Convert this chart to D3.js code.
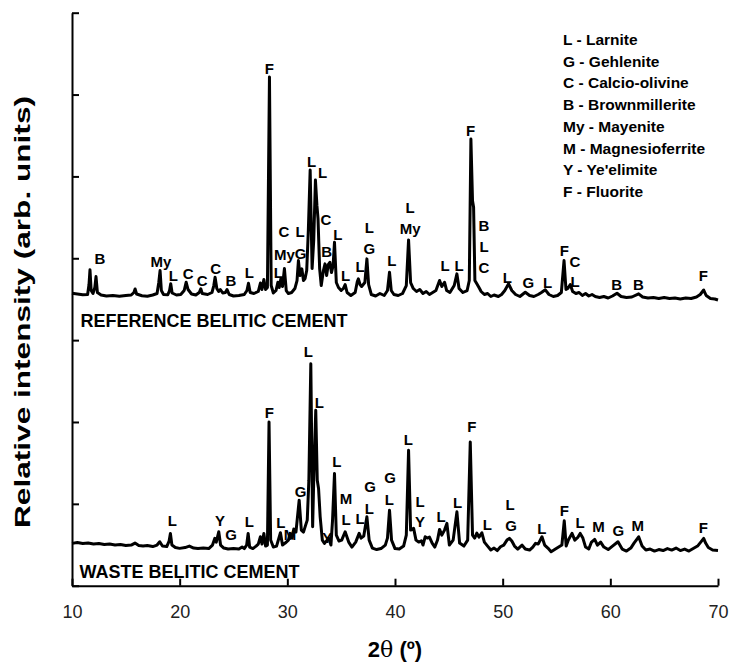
<!DOCTYPE html>
<html>
<head>
<meta charset="utf-8">
<script src="https://cdn.jsdelivr.net/npm/d3@7"></script>
<style>
  body { margin: 0; background: #fff; }
  svg { display: block; font-family: "Liberation Sans", Arial, sans-serif; }
  .peak { font-size: 15px; font-weight: bold; text-anchor: middle; }
  .axis text { font-size: 18px; fill: #222; }
</style>
</head>
<body>
<svg id="chart" width="729" height="664"></svg>
<script>
// 2theta (deg), intensity (arb.)
var refPattern = [
  [10.0, 2930], [10.5, 2922], [11.0, 2915], [11.45, 2917], [11.58, 3017], [11.67, 3164], [11.78, 2957],
  [11.95, 2927], [12.12, 2987], [12.23, 3097], [12.36, 2937], [12.7, 2912], [13.2, 2902], [13.8, 2907],
  [14.4, 2899], [15.0, 2907], [15.5, 2912], [15.75, 2937], [15.86, 2972], [16.0, 2922], [16.5, 2905],
  [17.0, 2899], [17.5, 2912], [17.9, 2927], [18.06, 3037], [18.18, 3157], [18.3, 2957], [18.5, 2917],
  [18.9, 2915], [19.06, 2957], [19.17, 3024], [19.3, 2932], [19.7, 2912], [20.1, 2917], [20.42, 2957],
  [20.6, 3040], [20.78, 2967], [21.1, 2922], [21.5, 2912], [21.82, 2937], [21.96, 2974], [22.1, 2927],
  [22.6, 2917], [23.0, 2937], [23.17, 3007], [23.29, 3090], [23.45, 2977], [23.62, 2947], [23.78, 2967],
  [24.0, 2932], [24.25, 2937], [24.4, 2967], [24.6, 2917], [25.0, 2902], [25.5, 2907], [26.0, 2917],
  [26.25, 2957], [26.39, 3030], [26.55, 2937], [26.9, 2927], [27.3, 2947], [27.5, 3032], [27.64, 2967],
  [27.82, 3067], [27.98, 2967], [28.15, 2987], [28.34, 5097], [28.5, 3007], [28.7, 2932], [28.95, 2957],
  [29.12, 3040], [29.25, 2987], [29.4, 3074], [29.55, 2997], [29.73, 3177], [29.9, 2957], [30.1, 2927],
  [30.4, 2937], [30.7, 2977], [30.9, 3057], [31.03, 3257], [31.18, 3107], [31.35, 3174], [31.5, 3057],
  [31.65, 3077], [31.8, 3157], [31.95, 3557], [32.12, 4164], [32.3, 3177], [32.45, 3457], [32.61, 4064],
  [32.75, 3807], [32.85, 3677], [33.0, 3177], [33.15, 3007], [33.35, 3157], [33.5, 3224], [33.65, 3107],
  [33.8, 3217], [33.95, 3240], [34.1, 3137], [34.25, 3207], [34.38, 3440], [34.55, 3037], [34.75, 2987],
  [35.0, 2957], [35.2, 2977], [35.37, 3017], [35.55, 2937], [35.9, 2907], [36.3, 2937], [36.5, 3047],
  [36.6, 3074], [36.75, 3017], [36.9, 2997], [37.2, 3037], [37.39, 3274], [37.55, 3017], [37.8, 2917],
  [38.2, 2902], [38.6, 2927], [39.0, 2907], [39.3, 2957], [39.49, 3140], [39.65, 2957], [39.9, 2917],
  [40.3, 2907], [40.7, 2927], [41.05, 3007], [41.26, 3464], [41.45, 3037], [41.7, 2977], [42.0, 2947],
  [42.3, 2967], [42.6, 2927], [42.9, 2947], [43.2, 2917], [43.5, 2937], [43.8, 2957], [44.14, 3057],
  [44.35, 2997], [44.6, 3040], [44.8, 2957], [45.1, 2937], [45.5, 3007], [45.75, 3124], [45.95, 2977],
  [46.3, 2937], [46.7, 2957], [46.9, 3057], [47.05, 4474], [47.2, 3857], [47.3, 3790], [47.42, 3057],
  [47.6, 3024], [47.8, 2987], [48.0, 2947], [48.3, 2917], [48.6, 2927], [48.9, 2897], [49.2, 2912],
  [49.6, 2897], [49.9, 2917], [50.2, 2957], [50.55, 3024], [50.85, 2957], [51.2, 2917], [51.6, 2897],
  [52.1, 2940], [52.5, 2907], [52.9, 2897], [53.3, 2917], [53.6, 2937], [53.96, 2964], [54.3, 2917],
  [54.7, 2897], [55.1, 2907], [55.45, 2937], [55.7, 3257], [55.88, 2967], [56.05, 2977], [56.28, 3017],
  [56.5, 2947], [56.8, 2927], [57.1, 2937], [57.4, 2907], [57.7, 2927], [58.0, 2902], [58.3, 2917],
  [58.6, 2897], [59.0, 2887], [59.4, 2897], [59.8, 2882], [60.2, 2902], [60.62, 2930], [61.0, 2897],
  [61.5, 2887], [62.0, 2892], [62.63, 2924], [63.0, 2892], [63.5, 2882], [64.0, 2887], [64.5, 2877],
  [65.0, 2887], [65.5, 2877], [66.0, 2882], [66.5, 2872], [67.0, 2882], [67.5, 2877], [68.0, 2892],
  [68.35, 2917], [68.67, 2962], [68.9, 2907], [69.3, 2877], [69.7, 2872], [70.0, 2862]
];

var wastePattern = [
  [10.0, 424], [10.5, 432], [11.0, 422], [11.5, 427], [12.0, 417], [12.5, 422], [13.0, 412], [13.5, 417],
  [14.0, 407], [14.5, 412], [15.0, 402], [15.5, 407], [15.85, 427], [16.2, 402], [16.6, 397], [17.0, 402],
  [17.5, 392], [17.9, 407], [18.15, 440], [18.4, 397], [18.8, 392], [19.02, 447], [19.14, 524], [19.28, 407],
  [19.6, 382], [20.0, 374], [20.5, 382], [20.9, 397], [21.3, 377], [21.7, 372], [22.2, 377], [22.7, 372],
  [23.05, 407], [23.26, 474], [23.4, 437], [23.63, 540], [23.8, 407], [24.1, 377], [24.5, 367], [25.0, 372],
  [25.5, 367], [25.8, 387], [26.0, 372], [26.22, 407], [26.36, 524], [26.5, 387], [26.8, 372], [27.1, 397],
  [27.3, 417], [27.5, 490], [27.65, 417], [27.82, 524], [27.98, 397], [28.15, 407], [28.3, 1640], [28.45, 457],
  [28.7, 387], [29.0, 397], [29.36, 530], [29.55, 407], [29.8, 427], [30.1, 457], [30.26, 524], [30.45, 477],
  [30.6, 567], [30.8, 537], [31.1, 857], [31.3, 557], [31.5, 537], [31.7, 607], [31.85, 657], [32.0, 1057],
  [32.18, 2224], [32.35, 590], [32.45, 1057], [32.64, 1757], [32.78, 1057], [32.9, 974], [33.05, 690],
  [33.25, 457], [33.45, 424], [33.7, 457], [33.85, 474], [34.05, 407], [34.2, 657], [34.38, 1124], [34.55, 507],
  [34.8, 447], [35.05, 457], [35.37, 540], [35.7, 437], [36.0, 387], [36.35, 437], [36.67, 524], [36.85, 477],
  [37.1, 497], [37.39, 690], [37.6, 457], [37.9, 377], [38.3, 362], [38.7, 372], [39.1, 407], [39.3, 477],
  [39.49, 757], [39.68, 457], [40.0, 372], [40.4, 367], [40.8, 397], [41.05, 507], [41.26, 1357], [41.45, 557],
  [41.73, 574], [41.95, 457], [42.2, 437], [42.45, 450], [42.6, 407], [42.8, 490], [43.0, 477], [43.2, 487],
  [43.45, 427], [43.7, 387], [43.95, 457], [44.14, 564], [44.35, 507], [44.6, 557], [44.82, 624], [45.05, 407],
  [45.4, 457], [45.75, 740], [46.0, 427], [46.4, 397], [46.75, 457], [46.99, 1440], [47.2, 507], [47.4, 477],
  [47.6, 527], [47.8, 487], [48.07, 530], [48.3, 437], [48.6, 397], [48.9, 357], [49.2, 377], [49.5, 352],
  [49.8, 390], [50.1, 407], [50.4, 457], [50.62, 474], [50.85, 447], [51.1, 397], [51.4, 367], [51.8, 407],
  [52.1, 367], [52.5, 357], [52.8, 387], [53.05, 424], [53.3, 417], [53.65, 490], [53.9, 407], [54.2, 377],
  [54.5, 340], [54.9, 367], [55.2, 387], [55.5, 407], [55.72, 650], [55.9, 397], [56.1, 457], [56.44, 524],
  [56.7, 457], [57.0, 487], [57.2, 524], [57.45, 477], [57.7, 387], [58.0, 367], [58.25, 437], [58.55, 464],
  [58.8, 407], [59.1, 437], [59.4, 387], [59.8, 362], [60.2, 397], [60.71, 440], [61.1, 367], [61.5, 347],
  [61.9, 377], [62.2, 427], [62.63, 490], [62.95, 397], [63.3, 357], [63.7, 367], [64.1, 347], [64.5, 362],
  [64.9, 352], [65.3, 372], [65.7, 357], [66.1, 377], [66.5, 352], [66.9, 367], [67.3, 347], [67.7, 372],
  [68.1, 397], [68.4, 437], [68.67, 474], [68.85, 427], [69.1, 382], [69.5, 357], [70.0, 352]
];

// phase labels: 2theta, intensity level of the label baseline, phase
var refLabels = [
  [12.6, 3224, "B"], [18.27, 3190, "My"], [19.41, 3050, "L"], [20.8, 3074, "C"], [22.1, 3000, "C"],
  [23.35, 3124, "C"], [24.77, 3007, "B"], [26.47, 3084, "L"], [28.33, 5130, "F"], [29.69, 3497, "C"],
  [29.72, 3264, "My"], [29.16, 3084, "L"], [31.18, 3497, "L"], [31.24, 3274, "G"], [32.26, 4190, "L"],
  [33.28, 4084, "L"], [33.59, 3617, "C"], [33.66, 3290, "B"], [34.68, 3464, "L"], [35.42, 3057, "L"],
  [36.75, 3140, "L"], [37.61, 3534, "L"], [37.61, 3324, "G"], [39.7, 3207, "L"], [41.4, 3730, "L"],
  [41.4, 3524, "My"], [44.65, 3150, "L"], [45.95, 3150, "L"], [47.03, 4507, "F"], [48.27, 3557, "B"],
  [48.27, 3340, "L"], [48.27, 3130, "C"], [50.43, 3030, "L"], [52.38, 2984, "G"], [54.18, 2984, "L"],
  [55.73, 3307, "F"], [56.72, 3190, "C"], [56.72, 2997, "L"], [60.6, 2964, "B"], [62.6, 2964, "B"],
  [68.64, 3057, "F"]
];

var wasteLabels = [
  [19.32, 597, "L"], [23.75, 597, "Y"], [24.77, 457, "G"], [26.47, 590, "L"], [28.33, 1684, "F"],
  [29.39, 574, "L"], [30.25, 457, "M"], [31.24, 890, "G"], [31.95, 2290, "L"], [32.97, 1784, "L"],
  [33.71, 430, "Y"], [34.59, 1190, "L"], [35.45, 817, "M"], [35.45, 607, "L"], [36.75, 617, "L"],
  [37.68, 940, "G"], [37.61, 717, "L"], [39.54, 1024, "G"], [39.47, 807, "L"], [41.24, 1407, "L"],
  [42.32, 790, "L"], [42.32, 584, "Y"], [44.27, 640, "L"], [45.82, 774, "L"], [47.13, 1540, "F"],
  [48.57, 557, "L"], [50.68, 757, "L"], [50.78, 547, "G"], [53.63, 517, "L"], [55.73, 697, "F"],
  [57.19, 574, "L"], [58.89, 534, "M"], [60.75, 497, "G"], [62.55, 550, "M"], [68.64, 524, "F"]
];

var legendItems = [
  "L - Larnite", "G - Gehlenite", "C - Calcio-olivine", "B - Brownmillerite",
  "My - Mayenite", "M - Magnesioferrite", "Y - Ye'elimite", "F - Fluorite"
];

var xTicks = [10, 20, 30, 40, 50, 60, 70];
var yTicks = [0, 820, 1640, 2460, 3280, 4100, 4920, 5740];

var svg = d3.select("#chart");

var x = d3.scaleLinear().domain([10, 70]).range([72, 718]);
var y = d3.scaleLinear().domain([0, 5740]).range([585.7, 12.7]);

svg.append("rect").attr("width", 729).attr("height", 664).attr("fill", "#fff");

// peak labels go under the traces
function drawLabels(labels) {
    svg.append("g").selectAll("text")
        .data(labels)
        .enter().append("text")
        .attr("class", "peak")
        .attr("x", function(d) { return x(d[0]); })
        .attr("y", function(d) { return y(d[1]); })
        .text(function(d) { return d[2]; });
}
drawLabels(refLabels);
drawLabels(wasteLabels);

var line = d3.line()
    .x(function(d) { return x(d[0]); })
    .y(function(d) { return y(d[1]); });

[refPattern, wastePattern].forEach(function(p) {
    svg.append("path")
        .datum(p)
        .attr("d", line)
        .attr("fill", "none")
        .attr("stroke", "#000")
        .attr("stroke-width", 3)
        .attr("stroke-linejoin", "round");
});

// axes, ticks pointing inwards
var xAxis = svg.append("g")
    .attr("class", "axis")
    .attr("transform", "translate(0," + y(0) + ")")
    .call(d3.axisBottom(x).tickValues(xTicks).tickSizeInner(-7).tickSizeOuter(0).tickPadding(20));

var yAxis = svg.append("g")
    .attr("class", "axis")
    .attr("transform", "translate(" + x(10) + ",0)")
    .call(d3.axisLeft(y).tickValues(yTicks).tickSizeInner(-7).tickSizeOuter(0).tickFormat(""));

svg.selectAll(".axis path, .axis line").attr("stroke", "#000").attr("stroke-width", 2);
xAxis.selectAll("text").attr("font-family", "'Liberation Sans', Arial, sans-serif");

// sample names
svg.append("text")
    .attr("x", 80.5).attr("y", 326.5)
    .attr("font-size", 18).attr("font-weight", "bold")
    .text("REFERENCE BELITIC CEMENT");
svg.append("text")
    .attr("x", 79.5).attr("y", 578)
    .attr("font-size", 18).attr("font-weight", "bold")
    .text("WASTE BELITIC CEMENT");

// legend
svg.append("g").selectAll("text")
    .data(legendItems)
    .enter().append("text")
    .attr("x", 563)
    .attr("y", function(d, i) { return 45 + i * 21.7; })
    .attr("font-size", 15.5)
    .attr("font-weight", "bold")
    .text(function(d) { return d; });

// axis titles
var xt = svg.append("text")
    .attr("x", 395).attr("y", 657)
    .attr("text-anchor", "middle")
    .attr("font-size", 22).attr("font-weight", "bold");
xt.append("tspan").text("2");
xt.append("tspan").attr("font-family", "'DejaVu Serif', serif").attr("font-weight", "normal").text("\u03b8");
xt.append("tspan").text(" (\u00ba)");

svg.append("text")
    .attr("transform", "translate(30,312) rotate(-90)")
    .attr("text-anchor", "middle")
    .attr("font-size", 22).attr("font-weight", "bold")
    .attr("textLength", 432).attr("lengthAdjust", "spacingAndGlyphs")
    .text("Relative intensity (arb. units)");
</script>
</body>
</html>
